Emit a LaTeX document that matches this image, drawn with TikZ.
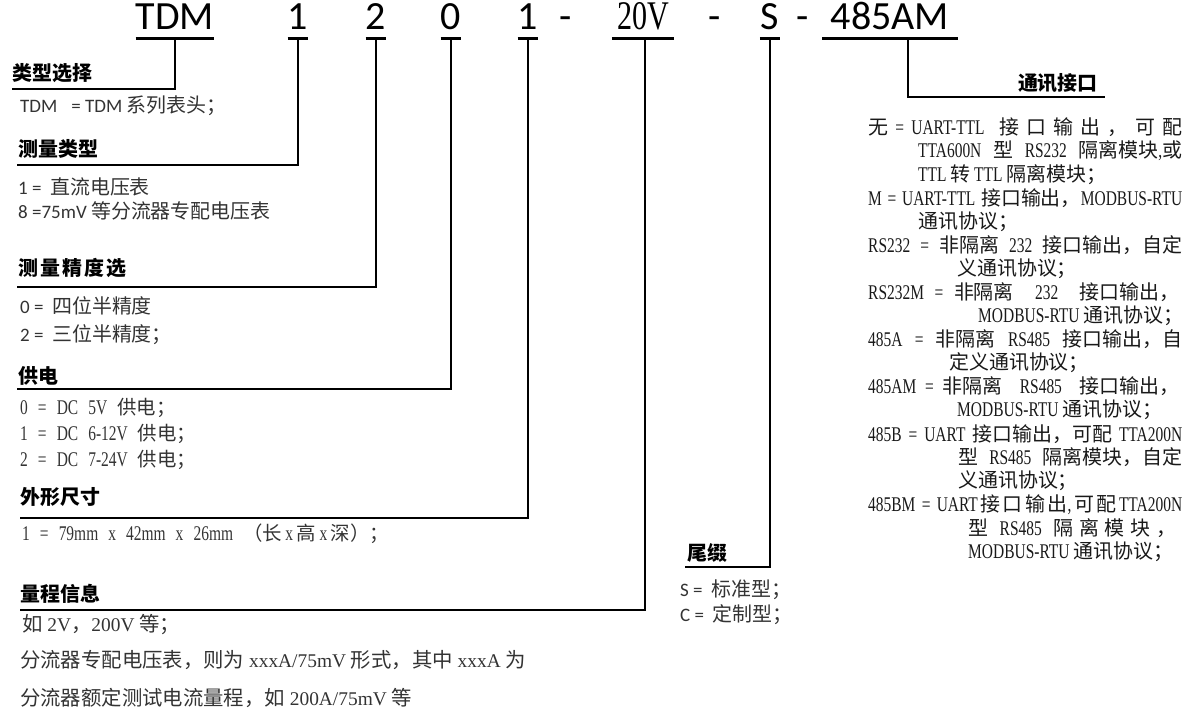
\documentclass[tikz,border=0pt]{standalone}
\usepackage{fontspec}
\setmainfont{Liberation Serif}
\newfontfamily\cjk[Scale=1.05]{Noto Sans CJK SC}
\newfontfamily\cjkbig[Scale=1.05]{Noto Sans CJK SC}
\newfontfamily\calfont{Carlito}
\newfontfamily\sunfont[Scale=1.13, FakeStretch=0.74, WordSpace=2.6]{Liberation Serif}
\newfontfamily\optfont[Scale=1.1, FakeStretch=0.74]{Liberation Serif}
\newcommand\cjkcur{\cjk}

% Chinese characters switch to \cjkcur on their own
\XeTeXinterchartokenstate=1
\newXeTeXintercharclass\cjkcls
\newcount\cjkn
\cjkn=0
\loop \XeTeXcharclass\cjkn=0 \advance\cjkn by 1 \ifnum\cjkn<"2000 \repeat
\cjkn="3000
\loop \XeTeXcharclass\cjkn=\cjkcls \advance\cjkn by 1 \ifnum\cjkn<"A000 \repeat
\cjkn="FF00
\loop \XeTeXcharclass\cjkn=\cjkcls \advance\cjkn by 1 \ifnum\cjkn<"FFF0 \repeat
\XeTeXinterchartoks 0 \cjkcls = {\begingroup\cjkcur}
\XeTeXinterchartoks 4095 \cjkcls = {\begingroup\cjkcur}
\XeTeXinterchartoks \cjkcls 0 = {\endgroup}
\XeTeXinterchartoks \cjkcls 4095 = {\endgroup}

\newcommand\jline[2]{\makebox[#1][s]{#2}}
\newcommand\gap{\hskip 0pt plus 2pt}

\tikzset{
  code/.style={font=\calfont\fontsize{40}{40}\selectfont, inner sep=0pt, text height=27pt, text depth=8pt, anchor=south},
  uline/.style={line width=3pt},
  lead/.style={line width=2.5pt},
  title/.style={font=\bfseries\fontsize{19}{19}\selectfont, inner sep=0pt, anchor=west},
  item/.style={font=\calfont\fontsize{19}{19}\selectfont\let\cjkcur\cjkbig, inner sep=0pt, anchor=west, text=black!80},
  sunitem/.style={font=\sunfont\fontsize{18.5}{18.5}\selectfont, inner sep=0pt, anchor=west, text=black!80},
  rmitem/.style={font=\fontsize{19.4}{19.4}\selectfont, inner sep=0pt, anchor=west, text=black!80},
  opt/.style={font=\optfont\fontsize{19}{19}\selectfont, inner sep=0pt, anchor=west, text=black!90},
}

\begin{document}
\begin{tikzpicture}[x=1pt,y=-1pt]
\useasboundingbox (0,0) rectangle (1188,720);

% model code
\node[code, minimum width=78pt] (kTDM) at (175,38) {TDM};
\node[code, minimum width=20pt] (kMeas) at (298,38) {1};
\node[code, minimum width=20pt] (kAcc) at (376,38) {2};
\node[code, minimum width=20pt] (kPow) at (451,38) {0};
\node[code, minimum width=20pt] (kSize) at (528,38) {1};
\node[code] (dA) at (566,38) {-};
\node[code, font=\sunfont\fontsize{36}{36}\selectfont, minimum width=62pt] (kRange) at (643,38) {20V};
\node[code] (dB) at (715,38) {-};
\node[code, minimum width=20pt] (kTail) at (770,38) {S};
\node[code] (dC) at (803,38) {-};
\node[code, minimum width=135pt] (kComm) at (890,38) {485AM};

\foreach \k in {kTDM,kMeas,kAcc,kPow,kSize,kRange,kTail,kComm}
  \draw[uline] (\k.south west) -- (\k.south east);

% ends of the leads
\coordinate (eType) at (12,89);
\coordinate (eMeas) at (17,165);
\coordinate (eAcc) at (17,287);
\coordinate (ePow) at (17,389);
\coordinate (eSize) at (20,518);
\coordinate (eRange) at (20,610);
\coordinate (eTail) at (685,567);
\coordinate (eComm) at (1105,97);

\draw[lead] (kTDM.south) |- (eType);
\draw[lead] (kMeas.south) |- (eMeas);
\draw[lead] (kAcc.south) |- (eAcc);
\draw[lead] (kPow.south) |- (ePow);
\draw[lead] (kSize.south) |- (eSize);
\draw[lead] ([xshift=2pt]kRange.south) |- (eRange);
\draw[lead] (kTail.south) |- (eTail);
\draw[lead] ([xshift=18pt]kComm.south) |- (eComm);

% left column
\node[title] (tType) at (12,73) {类型选择};
\node[item] (iType) at (20,106) {TDM\hspace{14pt}= TDM 系列表头；};

\node[title] (tMeas) at (18,149) {测量类型};
\node[item] (iMeasA) at (18,187) {1 =\ \ 直流电压表};
\node[item] (iMeasB) at (18,211) {8 =75mV 等分流器专配电压表};

\node[title] (tAcc) at (18,268) {测\hspace{2pt}量\hspace{2pt}精\hspace{2pt}度\hspace{2pt}选};
\node[item] (iAccA) at (20,306) {0 =\ \ 四位半精度};
\node[item] (iAccB) at (20,335) {2 =\ \ 三位半精度；};

\node[title] (tPow) at (18,376) {供电};
\node[sunitem] (iPowA) at (20,408) {0 = DC 5V 供电；};
\node[sunitem] (iPowB) at (20,434) {1 = DC 6-12V 供电；};
\node[sunitem] (iPowC) at (20,460) {2 = DC 7-24V 供电；};

\node[title] (tSize) at (20,497) {外形尺寸};
\node[sunitem] (iSize) at (22,534) {1 = 79mm x 42mm x 26mm （长\,x\,高\,x\,深）；};

\node[title] (tRange) at (20,594) {量程信息};
\node[rmitem] (iRangeA) at (22,625) {如 2V，200V 等；};
\node[rmitem] (iRangeB) at (20,660) {分流器专配电压表，则为 xxxA/75mV 形式，其中 xxxA 为};
\node[rmitem] (iRangeC) at (20,698) {分流器额定测试电流量程，如 200A/75mV 等};

% suffix
\node[title] (tTail) at (687,553) {尾缀};
\node[item] (iTailA) at (680,590) {S =\ \ 标准型；};
\node[item] (iTailB) at (680,615) {C =\ \ 定制型；};

% interface
\node[title, anchor=east] (tComm) at (1098,83) {通讯接口};
\node[opt] (o1) at (868,127) {\jline{314pt}{无 = UART-TTL \ 接 口 输 出 ， 可 配}};
\node[opt] (o2) at (918,150.6) {\jline{264pt}{TTA600N 型 RS232 隔离模块,或}};
\node[opt] (o3) at (918,174.2) {TTL 转 TTL 隔离模块；};
\node[opt] (o4) at (868,197.8) {\jline{314pt}{M = UART-TTL 接口输出，MODBUS-RTU}};
\node[opt] (o5) at (918,221.4) {通讯协议；};
\node[opt] (o6) at (868,245) {\jline{314pt}{RS232 = 非隔离 232 接口输出，自定}};
\node[opt] (o7) at (957,268.6) {义通讯协议；};
\node[opt] (o8) at (868,292.2) {\jline{311pt}{RS232M = 非隔离 \ 232 \ 接口输出，}};
\node[opt] (o9) at (978,315.8) {MODBUS-RTU 通讯协议；};
\node[opt] (o10) at (868,339.4) {\jline{314pt}{485A = 非隔离 RS485 接口输出，自}};
\node[opt] (o11) at (949,363) {定义通讯协议；};
\node[opt] (o12) at (868,386.6) {\jline{311pt}{485AM = 非隔离 \ RS485 \ 接口输出，}};
\node[opt] (o13) at (957,410.2) {MODBUS-RTU 通讯协议；};
\node[opt] (o14) at (868,433.8) {\jline{314pt}{485B = UART 接口输出，可配 TTA200N}};
\node[opt] (o15) at (958,457.4) {\jline{224pt}{型 RS485 隔离模块，自定}};
\node[opt] (o16) at (958,481) {义通讯协议；};
\node[opt] (o17) at (868,504.6) {\jline{314pt}{485BM = UART\gap 接\gap 口\gap 输\gap 出,\gap 可\gap 配\gap TTA200N}};
\node[opt] (o18) at (968,528.2) {\jline{208pt}{型 \ RS485 \ 隔 离 模 块 ，}};
\node[opt] (o19) at (968,551.8) {MODBUS-RTU 通讯协议；};
\end{tikzpicture}
\end{document}
